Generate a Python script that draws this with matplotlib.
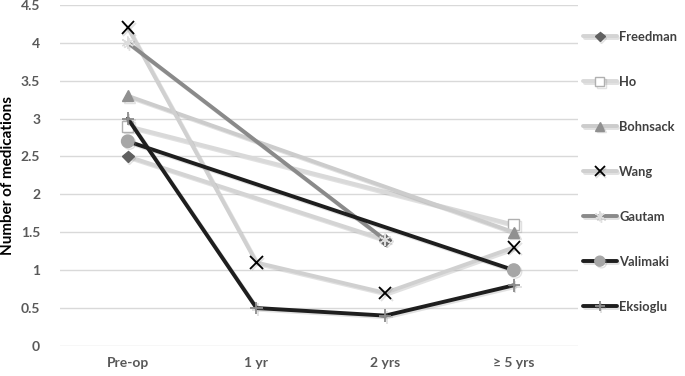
import numpy as np
import matplotlib.pyplot as plt
import matplotlib.patheffects as pe

plt.rcParams['font.family'] = ['Lato', 'DejaVu Sans']

cats = ["Pre-op", "1 yr", "2 yrs", "\u2265 5 yrs"]
nan = np.nan
freedman = [2.5, nan, 1.4, nan]
ho = [2.9, nan, nan, 1.6]
bohnsack = [3.3, nan, nan, 1.5]
wang = [4.2, 1.1, 0.7, 1.3]
gautam = [4.0, nan, 1.4, nan]
valimaki = [2.7, nan, nan, 1.0]
eksioglu = [3.0, 0.5, 0.4, 0.8]

names = ["Freedman", "Ho", "Bohnsack", "Wang", "Gautam", "Valimaki", "Eksioglu"]
series = [freedman, ho, bohnsack, wang, gautam, valimaki, eksioglu]
# line colour, marker, marker face, marker edge, marker size
styles = [
    ("#d4d4d4", "D", "#606060", "#606060", 6),
    ("#d9d9d9", "s", "white", "#b0b0b0", 8),
    ("#cccccc", "^", "#909090", "#909090", 8),
    ("#d0d0d0", "x", "black", "black", 9),
    ("#8a8a8a", (6, 2, 0), "#dddddd", "#dddddd", 9),
    ("#1e1e1e", "o", "#a6a6a6", "#a6a6a6", 9),
    ("#1e1e1e", "+", "#8c8c8c", "#8c8c8c", 9),
]

fig = plt.figure(figsize=(6.85, 3.76), dpi=100)
ax = fig.add_axes([0.087, 0.08, 0.757, 0.907])

x = np.arange(len(cats))
shadow = [pe.SimpleLineShadow(offset=(1.2, -1.2), alpha=0.25, shadow_color="#888888"), pe.Normal()]
for name, vals, (lc, mk, mf, me, ms) in zip(names, series, styles):
    v = np.array(vals)
    ok = ~np.isnan(v)
    ax.plot(x[ok], v[ok], color=lc, lw=2.8, marker=mk, markerfacecolor=mf,
            markeredgecolor=me, markersize=ms, markeredgewidth=1.3 if mk in ("x", "+") else 1,
            label=name, path_effects=shadow, solid_capstyle="round")

ax.set_xlim(-0.53, 3.5)
ax.set_ylim(0, 4.5)
ax.set_yticks(np.arange(0, 4.6, 0.5))
ax.set_yticklabels(["0", "0.5", "1", "1.5", "2", "2.5", "3", "3.5", "4", "4.5"])
ax.set_xticks(x)
ax.set_xticklabels(cats)
ax.grid(axis="y", color="#d9d9d9", lw=1)
ax.set_axisbelow(True)
for s in ax.spines.values():
    s.set_visible(False)
ax.tick_params(length=0, labelsize=10, labelcolor="#595959")
ax.tick_params(axis="y", pad=14)
ax.tick_params(axis="x", pad=8)
for t in ax.get_xticklabels() + ax.get_yticklabels():
    t.set_fontweight("bold")
ax.set_ylabel("Number of medications", fontsize=11, fontweight="bold", labelpad=4)

leg = fig.legend(loc="upper left", bbox_to_anchor=(583 / 685, 1 - 31 / 376), frameon=False,
                 labelspacing=2.55, handlelength=2.6, handletextpad=0.2, markerscale=0.8,
                 prop={"weight": "bold", "size": 9.3}, borderaxespad=0, borderpad=0)
for t in leg.get_texts():
    t.set_color("#404040")

fig.savefig("out.png", dpi=100)
